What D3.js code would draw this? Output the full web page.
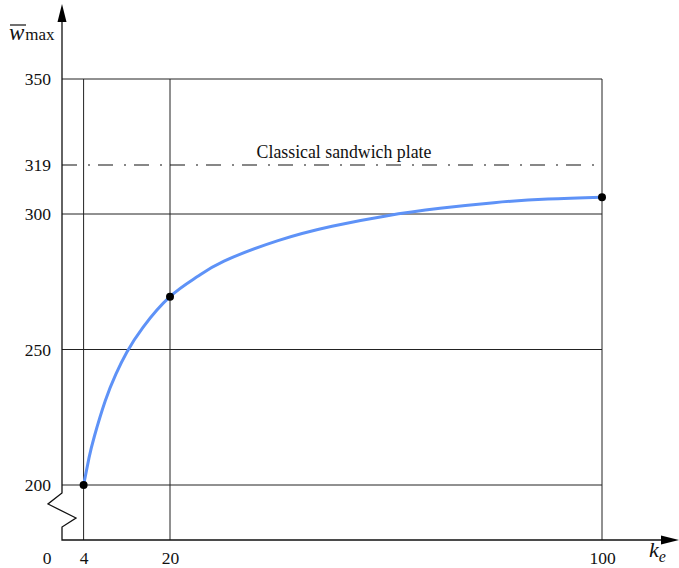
<!DOCTYPE html>
<html>
<head>
<meta charset="utf-8">
<script src="https://cdn.jsdelivr.net/npm/d3@7"></script>
<style>
  body { margin: 0; background: #fff; }
  svg { display: block; }
</style>
</head>
<body>
<div id="chart"></div>
<script>
// curve
const keValues = [4, 5, 6, 8, 10, 12, 15, 20, 25, 30, 40, 50, 60, 70, 80, 90, 100]
const wValues = [200, 210, 218, 231, 241, 249, 258.2, 269.5, 276.8, 282.6, 290.2, 295.5, 299.3, 302.2, 304.4, 305.8, 306.5]
const markedKe = [4, 20, 100]
const xTicks = [4, 20, 100]
const yTicks = [200, 250, 300, 319, 350]
const gridY = [200, 250, 300, 350]
const classicalValue = 319
const classicalLabel = 'Classical sandwich plate'

const width = 679
const height = 568
const axisX = 62
const axisY = 540
const serif = '"Liberation Serif", "Times New Roman", "DejaVu Serif", serif'

const svg = d3.select('#chart').append('svg')
  .attr('width', width)
  .attr('height', height)
  .style('font-family', serif)

const x = d3.scaleLinear().domain([0, 100]).range([axisX, 602])
// the original figure places 319 a little low, so the scale is piecewise
const y = d3.scaleLinear().domain([200, 300, 319, 350]).range([485, 214, 165, 79])

const data = keValues.map((k, i) => ({ k, w: wValues[i] }))

// grid
svg.append('g')
  .selectAll('line')
  .data(gridY)
  .enter()
  .append('line')
  .attr('x1', axisX).attr('x2', x(100))
  .attr('y1', d => y(d)).attr('y2', d => y(d))
  .attr('stroke', '#222').attr('stroke-width', 1)

svg.append('g')
  .selectAll('line')
  .data(xTicks)
  .enter()
  .append('line')
  .attr('x1', d => x(d)).attr('x2', d => x(d))
  .attr('y1', y(350)).attr('y2', axisY)
  .attr('stroke', '#222').attr('stroke-width', 1)

// classical plate reference
svg.append('line')
  .attr('x1', axisX).attr('x2', x(100))
  .attr('y1', y(classicalValue)).attr('y2', y(classicalValue))
  .attr('stroke', '#111').attr('stroke-width', 1.1)
  .attr('stroke-dasharray', '15,11,2,8')

svg.append('text')
  .attr('x', 344).attr('y', y(classicalValue) - 7)
  .attr('text-anchor', 'middle')
  .style('font-family', serif)
  .style('font-size', '17.8px')
  .attr('fill', '#111')
  .text(classicalLabel)

// curve
const line = d3.line()
  .x(d => x(d.k))
  .y(d => y(d.w))
  .curve(d3.curveNatural)

svg.append('path')
  .datum(data)
  .attr('fill', 'none')
  .attr('stroke', '#5e92f7')
  .attr('stroke-width', 3)
  .attr('d', line)

svg.append('g')
  .selectAll('circle')
  .data(data.filter(d => markedKe.includes(d.k)))
  .enter()
  .append('circle')
  .attr('cx', d => x(d.k))
  .attr('cy', d => y(d.w))
  .attr('r', 4)
  .attr('fill', '#000')

// axes (labels only, lines drawn by hand for the break)
const yAxis = svg.append('g')
  .attr('transform', `translate(${axisX},0)`)
  .call(d3.axisLeft(y).tickValues(yTicks).tickSize(0).tickPadding(11).tickFormat(d3.format('d')))
yAxis.select('.domain').remove()
yAxis.selectAll('text')
  .style('font-family', serif).style('font-size', '17.5px').attr('fill', '#111')

const xAxis = svg.append('g')
  .attr('transform', `translate(0,${axisY})`)
  .call(d3.axisBottom(x).tickValues([0].concat(xTicks)).tickSize(0).tickPadding(12).tickFormat(d3.format('d')))
xAxis.select('.domain').remove()
xAxis.selectAll('text')
  .style('font-family', serif).style('font-size', '17.5px').attr('fill', '#111')
xAxis.selectAll('.tick').filter(d => d === 0).attr('transform', `translate(${x(0) - 15},0)`)

// y axis with break
const breakTop = y(200) + 8
const yPath = d3.path()
yPath.moveTo(axisX, 18)
yPath.lineTo(axisX, breakTop)
yPath.lineTo(axisX - 14, breakTop + 11)
yPath.lineTo(axisX + 14, breakTop + 25)
yPath.lineTo(axisX, breakTop + 34)
yPath.lineTo(axisX, axisY)
yPath.lineTo(665, axisY)
svg.append('path')
  .attr('d', yPath.toString())
  .attr('fill', 'none')
  .attr('stroke', '#111')
  .attr('stroke-width', 1.3)
  .attr('stroke-linejoin', 'miter')

// arrowheads
svg.append('path')
  .attr('d', `M${axisX},4 L${axisX - 4.5},22 L${axisX + 4.5},22 Z`)
  .attr('fill', '#000')
svg.append('path')
  .attr('d', `M679,${axisY} L661,${axisY - 4.5} L661,${axisY + 4.5} Z`)
  .attr('fill', '#000')

// axis titles
const yTitle = svg.append('text').attr('x', 9).attr('y', 40)
  .style('font-family', serif).attr('fill', '#111')
yTitle.append('tspan').style('font-size', '23px').style('font-style', 'italic').text('w')
yTitle.append('tspan').style('font-size', '17px').attr('dx', 1).text('max')
svg.append('line')
  .attr('x1', 10).attr('x2', 26)
  .attr('y1', 25).attr('y2', 25)
  .attr('stroke', '#111').attr('stroke-width', 1.2)

const xTitle = svg.append('text').attr('x', 649).attr('y', 557)
  .style('font-family', serif).attr('fill', '#111')
xTitle.append('tspan').style('font-size', '22px').style('font-style', 'italic').text('k')
xTitle.append('tspan').style('font-size', '16px').style('font-style', 'italic').attr('dy', 5).text('e')
</script>
</body>
</html>
